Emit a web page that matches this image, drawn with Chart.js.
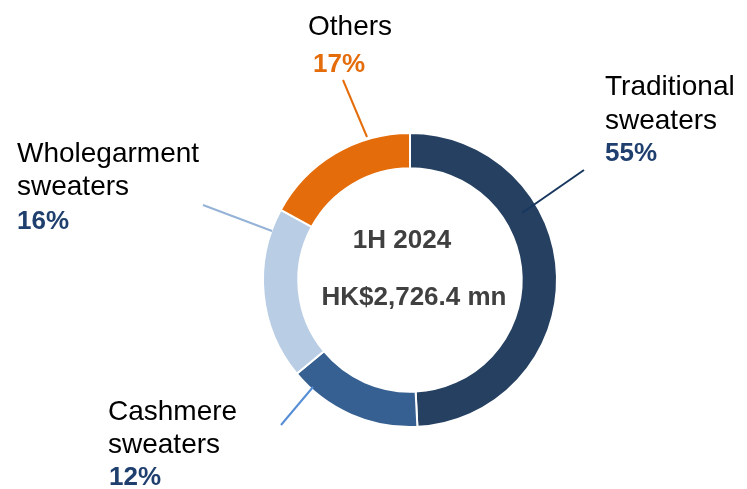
<!DOCTYPE html>
<html>
<head>
<meta charset="utf-8">
<script src="https://cdn.jsdelivr.net/npm/chart.js@4"></script>
<style>
  html, body { margin: 0; padding: 0; background: #ffffff; }
  #wrap { width: 747px; height: 489px; position: relative; }
</style>
</head>
<body>
<div id="wrap"><canvas id="salesMixChart" width="747" height="489"></canvas></div>
<script>
// segment names, shares as drawn, and the printed percentages
var categories = ['Traditional sweaters', 'Cashmere sweaters', 'Wholegarment sweaters', 'Others'];
var shares     = [49.2, 14.8, 18.9, 17.1];
var pctLabels  = ['55%', '12%', '16%', '17%'];
var centerText = ['1H 2024', 'HK$2,726.4 mn'];

var sliceColors = ['#254061', '#376092', '#B9CDE5', '#E46C0A'];
var lineColors  = ['#17375E', '#558ED5', '#95B3D7', '#E46C0A'];
var pctColors   = ['#1F3F6E', '#1F3F6E', '#1F3F6E', '#E46C0A'];

// label layout: name lines + percent, left x, baselines
var labelLayout = [
  { lines: ['Traditional', 'sweaters'], x: 605, y: [95, 129], px: 605, py: 161 },
  { lines: ['Cashmere', 'sweaters'],    x: 108, y: [420, 453], px: 109, py: 485 },
  { lines: ['Wholegarment', 'sweaters'], x: 17, y: [162, 195], px: 17, py: 229 },
  { lines: ['Others'],                  x: 308, y: [35],       px: 313, py: 72 }
]
// leader lines, offsets from the doughnut centre
var leaders = [
  [[112, -67], [174, -110]],
  [[-97, 107], [-129, 145]],
  [[-138, -49], [-207, -75]],
  [[-43, -143], [-67, -200]]
]

var FONT = "'Liberation Sans', Arial, Helvetica, sans-serif";

var calloutPlugin = {
  id: 'callouts',
  afterDatasetsDraw: function (chart) {
    var ctx = chart.ctx;
    var arc = chart.getDatasetMeta(0).data[0];
    var cx = arc.x, cy = arc.y;
    ctx.save();

    // leader lines
    ctx.lineWidth = 2;
    leaders.forEach(function (l, i) {
      ctx.strokeStyle = lineColors[i];
      ctx.beginPath();
      ctx.moveTo(cx + l[0][0], cy + l[0][1]);
      ctx.lineTo(cx + l[1][0], cy + l[1][1]);
      ctx.stroke();
    });

    // outside labels
    ctx.textAlign = 'left';
    ctx.textBaseline = 'alphabetic';
    labelLayout.forEach(function (lb, i) {
      ctx.font = '28px ' + FONT;
      ctx.fillStyle = '#000000';
      lb.lines.forEach(function (t, j) {
        ctx.fillText(t, lb.x, lb.y[j]);
      });
      ctx.font = 'bold 26px ' + FONT;
      ctx.fillStyle = pctColors[i];
      ctx.fillText(pctLabels[i], lb.px, lb.py);
    });

    // centre text
    ctx.font = 'bold 26px ' + FONT;
    ctx.fillStyle = '#404040';
    ctx.textAlign = 'center';
    ctx.fillText(centerText[0], cx - 8, cy - 32);
    ctx.fillText(centerText[1], cx + 4, cy + 25);
    ctx.restore();
  }
};

var ctx = document.getElementById('salesMixChart').getContext('2d');
var salesMixChart = new Chart(ctx, {
  type: 'doughnut',
  data: {
    labels: categories,
    datasets: [{
      data: shares,
      backgroundColor: sliceColors,
      borderColor: '#ffffff',
      borderWidth: 2,
      hoverOffset: 0
    }]
  },
  options: {
    responsive: false,
    animation: false,
    cutout: '76%',
    rotation: 0,
    layout: { padding: { left: 262, right: 189, top: 132, bottom: 61 } },
    plugins: {
      legend: { display: false },
      tooltip: { enabled: false }
    }
  },
  plugins: [calloutPlugin]
});
</script>
</body>
</html>
